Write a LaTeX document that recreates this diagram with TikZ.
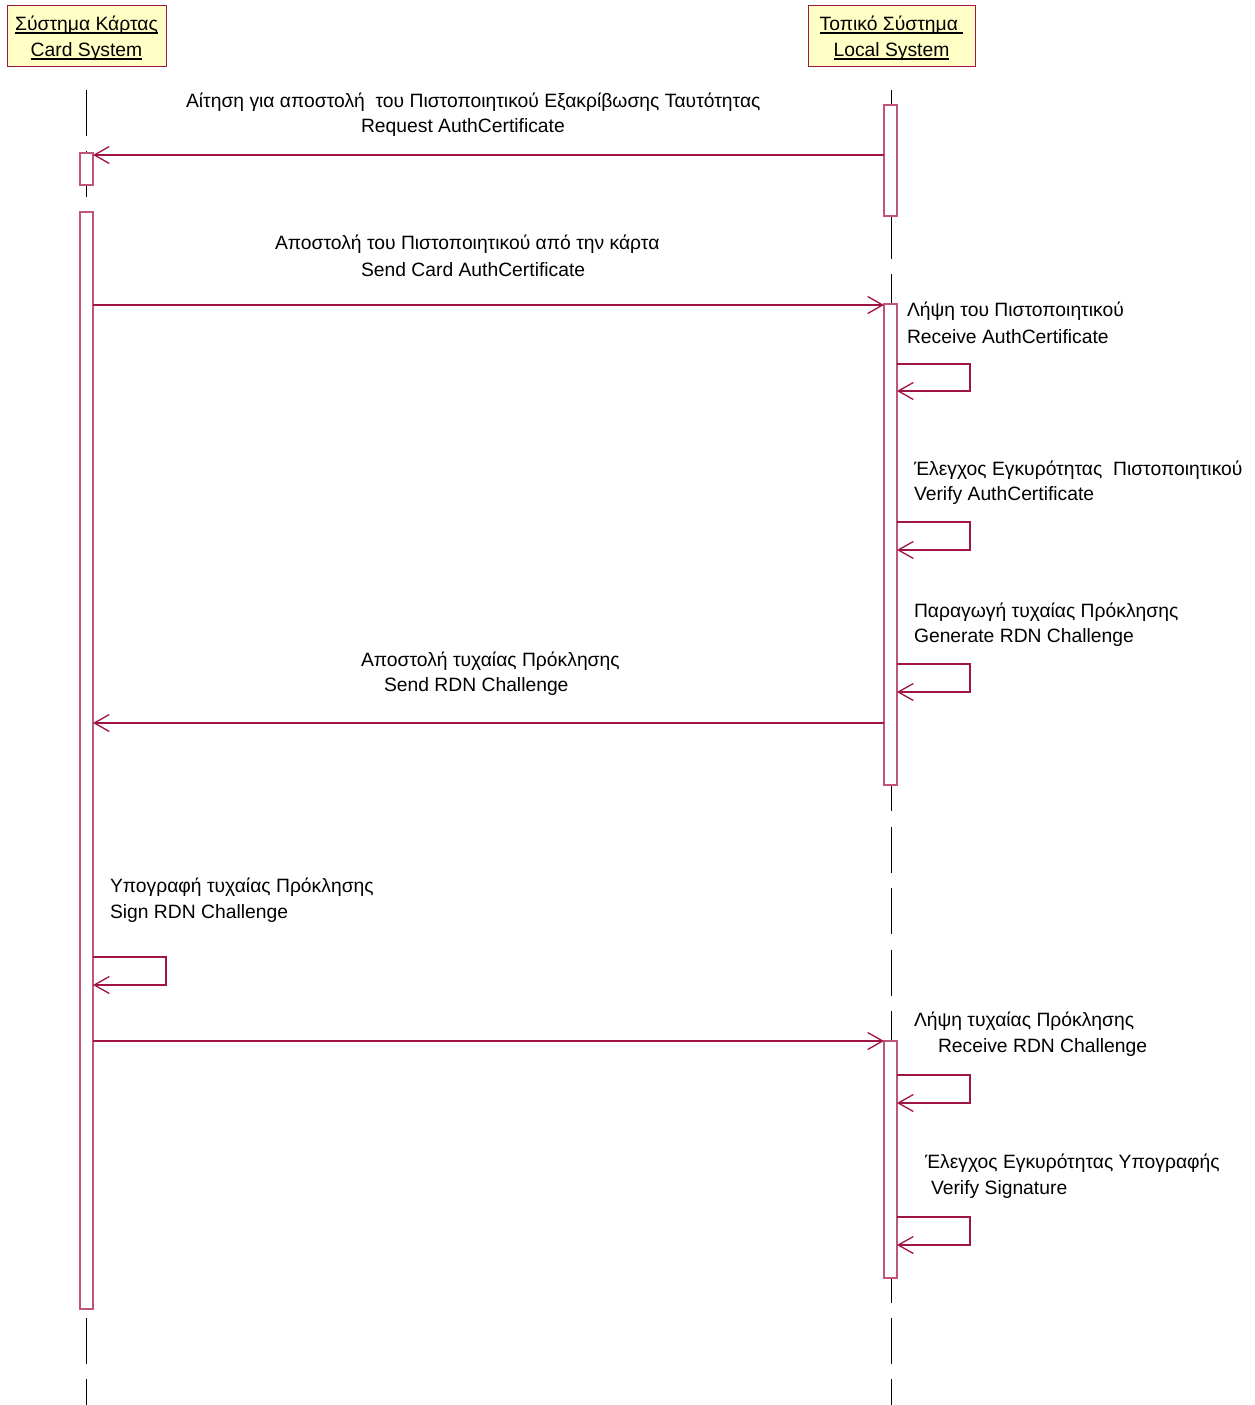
\documentclass[tikz,border=0pt]{standalone}
\usepackage{fontspec}
\setmainfont{Liberation Sans}
\usetikzlibrary{arrows.meta}
\definecolor{umlred}{HTML}{A01448}
\definecolor{actred}{HTML}{C0547A}
\definecolor{headfill}{HTML}{FFFFC6}
% solid underline for object names
\newcommand\objname[1]{\setbox0\hbox{#1}\rlap{\rule[-3pt]{\wd0}{1.3pt}}\box0}
\begin{document}
\begin{tikzpicture}[x=1pt,y=-1pt,
  every node/.style={font=\fontsize{19.3}{26}\selectfont, inner sep=0pt, outer sep=0pt},
  head/.style={draw=umlred, fill=headfill, line width=1pt, minimum height=61pt, align=center},
  lifeline/.style={draw=black, line width=1.1pt, dash pattern=on 46pt off 15.4pt},
  act/.style={draw=actred, fill=white, line width=1.2pt, minimum width=13pt},
  msg/.style={draw=umlred, line width=1.1pt, -{Straight Barb[length=15pt,width=17pt,line width=1.3pt]}},
  lbl/.style={anchor=west}
]
\useasboundingbox (0,0) rectangle (1254,1405);

% object headers
\node[head, minimum width=159pt] (card) at (86.5,36.5) {};
\node[head, minimum width=167pt] (local) at (891.5,36.5) {};
\node (cardname) at (86.5,38.5) [align=center] {\objname{Σύστημα Κάρτας}\\\objname{Card System}};
\node (localname) at (891.5,38.5) [align=center] {\objname{Τοπικό Σύστημα\ }\\\objname{Local System}};

% lifelines
\draw[lifeline] (card.south |- 0,90) -- (card.south |- 0,1405);
\draw[lifeline] (local.south |- 0,90) -- (local.south |- 0,1405);

% activation bars
\node[act, minimum height=32pt] (ca1) at (86.5,169) {};
\node[act, minimum height=1097pt] (ca2) at (86.5,760.5) {};
\node[act, minimum height=111pt] (la1) at (890.5,160.5) {};
\node[act, minimum height=481pt] (la2) at (890.5,544.5) {};
\node[act, minimum height=237pt] (la3) at (890.5,1159.5) {};

% request certificate
\node[lbl] (t1a) at (186,102) {Αίτηση για αποστολή\ \ του Πιστοποιητικού Εξακρίβωσης Ταυτότητας};
\node[lbl] (t1b) at (361,128) {Request AuthCertificate};
\draw[msg] (la1.west |- 0,155) -- (ca1.east |- 0,155);

% send certificate
\node[lbl] (t2a) at (275,244) {Αποστολή του Πιστοποιητικού από την κάρτα};
\node[lbl] (t2b) at (361,270) {Send Card AuthCertificate};
\draw[msg] (ca2.east |- 0,305) -- (la2.west |- 0,305);

% receive certificate
\node[lbl] (t3a) at (907,311) {Λήψη του Πιστοποιητικού};
\node[lbl] (t3b) at (907,337) {Receive AuthCertificate};
\draw[msg] (la2.east |- 0,364) -- (970,364) -- (970,391) -- (la2.east |- 0,391);

% verify certificate
\node[lbl] (t4a) at (914,470) {Έλεγχος Εγκυρότητας\ \ Πιστοποιητικού};
\node[lbl] (t4b) at (914,496) {Verify AuthCertificate};
\draw[msg] (la2.east |- 0,522) -- (970,522) -- (970,550) -- (la2.east |- 0,550);

% generate challenge
\node[lbl] (t5a) at (914,612) {Παραγωγή τυχαίας Πρόκλησης};
\node[lbl] (t5b) at (914,638) {Generate RDN Challenge};
\draw[msg] (la2.east |- 0,664) -- (970,664) -- (970,692) -- (la2.east |- 0,692);

% send challenge
\node[lbl] (t6a) at (361,661) {Αποστολή τυχαίας Πρόκλησης};
\node[lbl] (t6b) at (384,687) {Send RDN Challenge};
\draw[msg] (la2.west |- 0,723) -- (ca2.east |- 0,723);

% sign challenge
\node[lbl] (t7a) at (110,887) {Υπογραφή τυχαίας Πρόκλησης};
\node[lbl] (t7b) at (110,913) {Sign RDN Challenge};
\draw[msg] (ca2.east |- 0,957) -- (166,957) -- (166,985) -- (ca2.east |- 0,985);

% return signed challenge
\draw[msg] (ca2.east |- 0,1041) -- (la3.west |- 0,1041);

% receive challenge
\node[lbl] (t8a) at (914,1021) {Λήψη τυχαίας Πρόκλησης};
\node[lbl] (t8b) at (938,1047) {Receive RDN Challenge};
\draw[msg] (la3.east |- 0,1075) -- (970,1075) -- (970,1103) -- (la3.east |- 0,1103);

% verify signature
\node[lbl] (t9a) at (925,1163) {Έλεγχος Εγκυρότητας Υπογραφής};
\node[lbl] (t9b) at (931,1189) {Verify Signature};
\draw[msg] (la3.east |- 0,1217) -- (970,1217) -- (970,1245) -- (la3.east |- 0,1245);
\end{tikzpicture}
\end{document}
